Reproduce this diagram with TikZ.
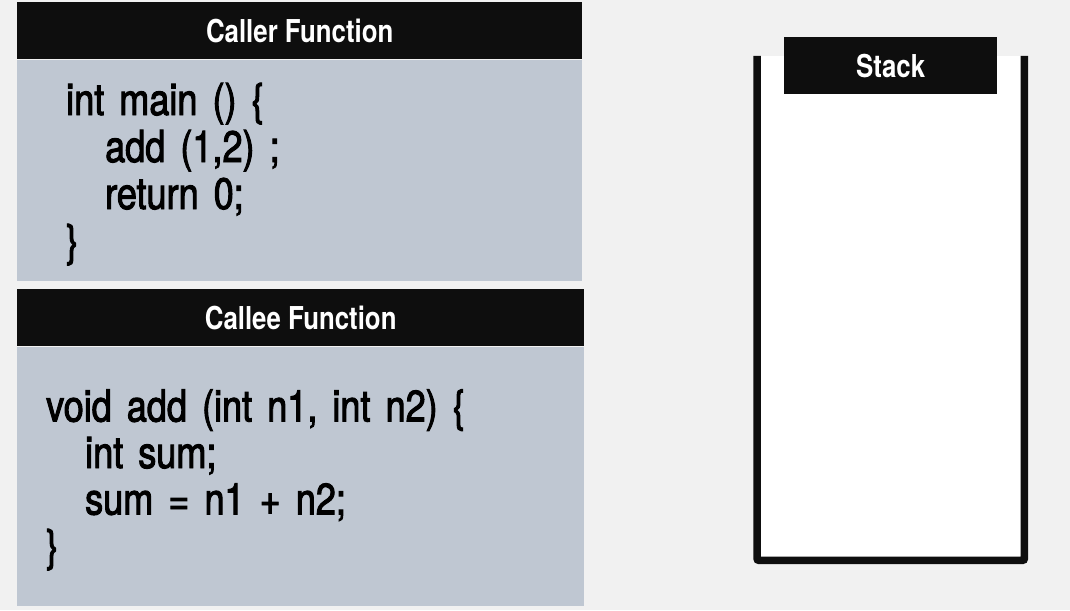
\documentclass[tikz,border=0pt]{standalone}
\usepackage{fontspec}
\setmainfont{TeX Gyre Heros}[FakeStretch=0.82]
\newfontfamily\codefont{TeX Gyre Heros}[FakeStretch=0.82, WordSpace=1.5, FakeBold=2.2]
\usepackage{tikz}
\usetikzlibrary{positioning}
\definecolor{pagebg}{RGB}{241,241,241}
\definecolor{panelgray}{RGB}{191,199,210}
\definecolor{headblack}{RGB}{14,14,14}

\begin{document}
\begin{tikzpicture}[
    x=1pt, y=-1pt,
    headbox/.style={rectangle, fill=headblack, text=white, inner sep=0pt,
                anchor=north west, minimum height=57pt,
                font=\fontsize{31.5}{36}\selectfont\bfseries},
    panel/.style={rectangle, fill=panelgray, inner sep=0pt, anchor=north},
    codetext/.style={anchor=base west, inner sep=0pt, align=left,
                font=\codefont\fontsize{44}{47}\selectfont},
    wall/.style={line width=7.5pt, headblack, rounded corners=2pt}
]
    % Background
    \fill[pagebg] (0,0) rectangle (1070,610);

    % Caller
    \node[headbox, minimum width=565pt] (callerhead) at (17,2) {Caller Function};
    \node[panel, below=0pt of callerhead, minimum width=565pt, minimum height=221pt] (callerbody) {};
    \node[codetext] (callercode) at (66,256)
        {int main () \{\\\hspace*{39pt}add (1,2) ;\\\hspace*{39pt}return 0;\\\}};

    % Callee
    \node[headbox, minimum width=567pt] (calleehead) at (17,289) {Callee Function};
    \node[panel, below=0pt of calleehead, minimum width=567pt, minimum height=259pt] (calleebody) {};
    \node[codetext, font=\codefont\fontsize{44}{46.5}\selectfont] (calleecode) at (46,561)
        {void add (int n1, int n2) \{\\\hspace*{39pt}int sum;\\\hspace*{39pt}sum = n1 + n2;\\\}};

    % Stack
    \node[rectangle, fill=white, inner sep=0pt, anchor=north west,
          minimum width=267pt, minimum height=504pt] (stack) at (757,56) {};
    \draw[wall] (stack.north west) -- (stack.south west) -- (stack.south east) -- (stack.north east);
    \node[headbox, minimum width=213pt] (stackhead) at (784,37) {Stack};
\end{tikzpicture}
\end{document}
